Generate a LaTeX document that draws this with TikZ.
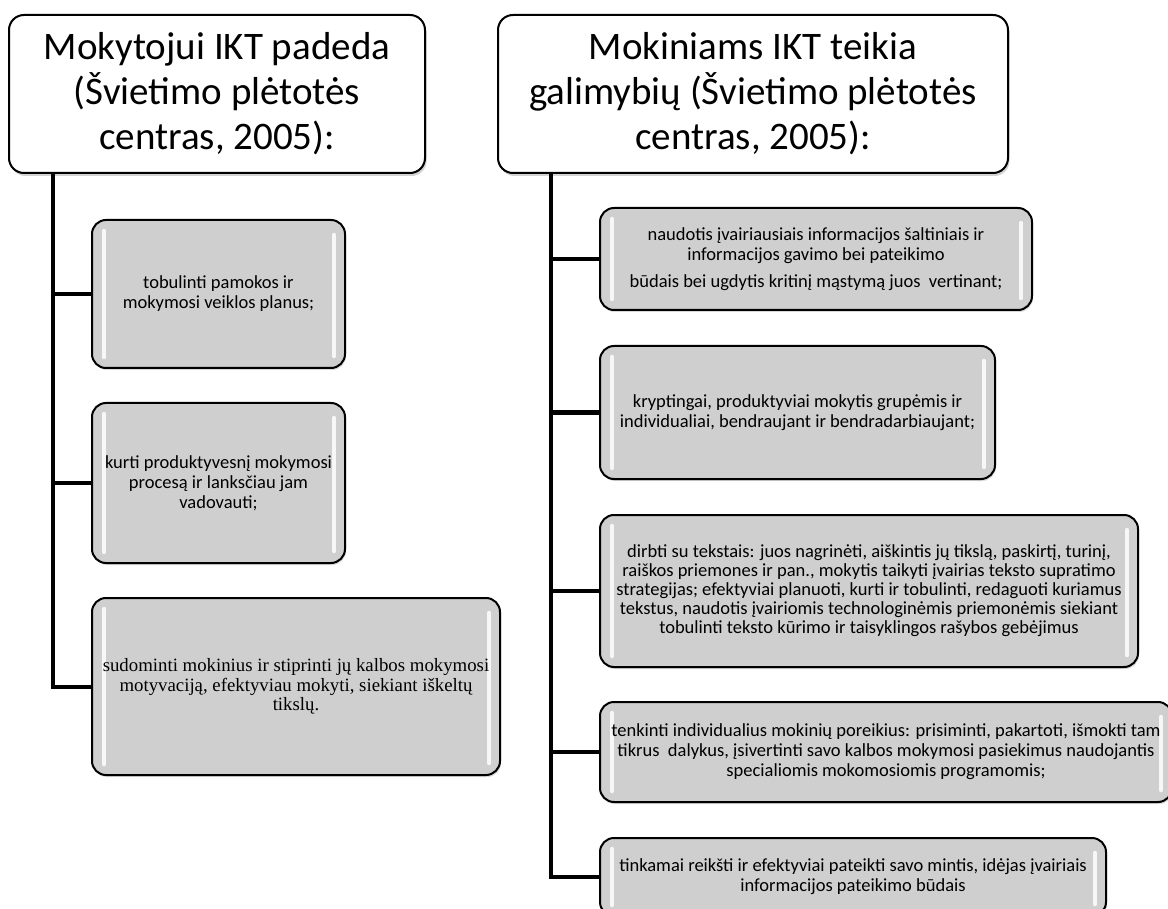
\documentclass[tikz,border=0pt]{standalone}
\usepackage{fontspec}
\setmainfont{Carlito}
\newfontfamily\boxserif{Liberation Serif}
\usetikzlibrary{shadows}
\definecolor{itemgray}{HTML}{CFCFCF}

\begin{document}
\begin{tikzpicture}[x=1pt, y=-1pt,
	title/.style={draw, line width=2pt, rounded corners=15pt, fill=white, align=center, inner sep=0pt, font=\fontsize{39}{45}\selectfont, drop shadow={opacity=0.35, shadow xshift=1.5pt, shadow yshift=-3pt}},
	item/.style={draw, line width=2pt, rounded corners=14pt, fill=itemgray, align=center, inner sep=0pt, font=\fontsize{18.5}{20}\selectfont, drop shadow={opacity=0.3, shadow xshift=1pt, shadow yshift=-2pt},
		path picture={\draw[white, line width=4.5pt, line cap=round, opacity=0.85]
			([shift={(12pt,-11pt)}]path picture bounding box.north west) -- ([shift={(12pt,11pt)}]path picture bounding box.south west)
			([shift={(-11pt,-15pt)}]path picture bounding box.north east) -- ([shift={(-11pt,12pt)}]path picture bounding box.south east);}},
	spine/.style={line width=4pt}]
	\useasboundingbox (0,0) rectangle (1168,909);

	\node[title, minimum width=416pt, minimum height=158pt] (lhead) at (217,94) {Mokytojui IKT padeda\\(Švietimo plėtotės\\centras, 2005):};
	\node[title, minimum width=510pt, minimum height=158pt] (rhead) at (753,94) {Mokiniams IKT teikia\\galimybių (Švietimo plėtotės\\centras, 2005):};

	\node[item, minimum width=253pt, minimum height=148pt] (lb1) at (218.5,294) {tobulinti pamokos ir\\mokymosi veiklos planus;};
	\node[item, minimum width=253pt, minimum height=160pt] (lb2) at (218.5,483) {kurti produktyvesnį mokymosi\\procesą ir lanksčiau jam\\vadovauti;};
	\node[item, minimum width=408pt, minimum height=177pt, font=\boxserif\fontsize{18.8}{19.5}\selectfont] (lb3) at (296,686.5) {sudominti mokinius ir stiprinti jų kalbos mokymosi\\motyvaciją, efektyviau mokyti, siekiant iškeltų\\tikslų.};

	\node[item, minimum width=432pt, minimum height=102pt] (rb1) at (816,259) {naudotis įvairiausiais informacijos šaltiniais ir\\informacijos gavimo bei pateikimo\\[7pt]būdais bei ugdytis kritinį mąstymą juos\ \ vertinant;};
	\node[item, minimum width=395pt, minimum height=133pt] (rb2) at (797.5,412.5) {kryptingai, produktyviai mokytis grupėmis ir\\individualiai, bendraujant ir bendradarbiaujant;};
	\node[item, minimum width=538pt, minimum height=152pt, font=\fontsize{18.5}{19}\selectfont] (rb3) at (869,591) {dirbti su tekstais: juos nagrinėti, aiškintis jų tikslą, paskirtį, turinį,\\raiškos priemones ir pan., mokytis taikyti įvairias teksto supratimo\\strategijas; efektyviai planuoti, kurti ir tobulinti, redaguoti kuriamus\\tekstus, naudotis įvairiomis technologinėmis priemonėmis siekiant\\tobulinti teksto kūrimo ir taisyklingos rašybos gebėjimus};
	\node[item, minimum width=572pt, minimum height=100pt] (rb4) at (886,752) {tenkinti individualius mokinių poreikius: prisiminti, pakartoti, išmokti tam\\tikrus\ \ dalykus, įsivertinti savo kalbos mokymosi pasiekimus naudojantis\\specialiomis mokomosiomis programomis;};
	\node[item, minimum width=506pt, minimum height=78pt] (rb5) at (853,877) {tinkamai reikšti ir efektyviai pateikti savo mintis, idėjas įvairiais\\informacijos pateikimo būdais};

	\coordinate (ltrunk) at ([xshift=45pt]lhead.south west);
	\coordinate (rtrunk) at ([xshift=54pt]rhead.south west);
	\draw[spine] (ltrunk) |- (lb1) (ltrunk) |- (lb2) (ltrunk) |- (lb3);
	\draw[spine] (rtrunk) |- (rb1) (rtrunk) |- (rb2) (rtrunk) |- (rb3) (rtrunk) |- (rb4) (rtrunk) |- (rb5);
\end{tikzpicture}
\end{document}
